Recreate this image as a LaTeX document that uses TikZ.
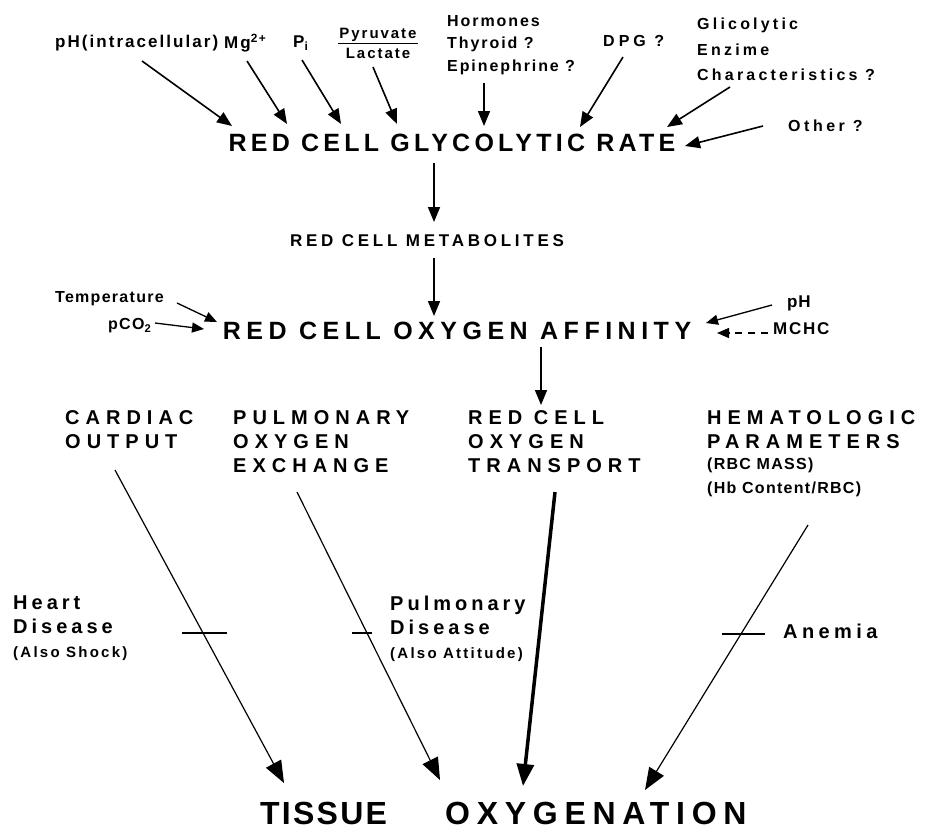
\documentclass[tikz,border=0pt]{standalone}
\usepackage{fontspec}
\setmainfont{Liberation Sans}
\usetikzlibrary{arrows.meta}
\newcommand\sz[3]{\fontsize{#1}{#2}\selectfont\bfseries\addfontfeatures{LetterSpace=#3}}
\tikzset{
	arr/.style = {-{Triangle[length=15pt,width=12pt]}, line width=1.6pt},
	thin/.style = {line width=1.3pt, -{Triangle[length=12pt,width=10pt]}},
	long/.style = {line width=1.2pt, -{Triangle[length=22pt,width=17pt]}},
	title/.style = {inner sep=0pt, font=\sz{25}{30}{17}},
	head/.style = {inner sep=0pt, align=left, font=\sz{20}{24}{30}},
	lbl/.style = {inner sep=0pt, align=left, font=\sz{17}{20}{12}},
	narrow/.style = {inner sep=0pt, align=left, font=\sz{16}{24}{8}},
	sick/.style = {inner sep=0pt, align=left, font=\sz{20}{24}{20}}
}
\begin{document}
\begin{tikzpicture}[x=1pt, y=-1pt]
	\useasboundingbox (0,0) rectangle (925,831);
	% factors above the glycolytic rate
	\node [lbl, anchor=west] (ph) at (55,43) {pH(intracellular)};
	\node [lbl, anchor=west] (mg) at (224,43) {Mg\textsuperscript{2+}};
	\node [lbl, anchor=west] (pi) at (293,43) {P\textsubscript{i}};
	\node [lbl, align=center, inner sep=1pt, font=\sz{15}{20}{13}] (pyr) at (378,43) {Pyruvate\\Lactate};
	\draw [line width=1pt] (pyr.west) -- (pyr.east);
	\node [lbl, anchor=north west, font=\sz{16}{22.5}{12}] (horm) at (447,15) {Hormones\\Thyroid ?\\Epinephrine ?};
	\node [lbl, anchor=west, font=\sz{16}{20}{25}] (dpg) at (603,41) {DPG ?};
	\node [lbl, anchor=north west, font=\sz{16}{25.5}{20}] (glic) at (697,18) {Glicolytic\\Enzime\\Characteristics ?};
	\node [lbl, anchor=west, font=\sz{16}{20}{22}] (other) at (788,126) {Other ?};
	\node [title] (glyc) at (452,143) {RED CELL GLYCOLYTIC RATE};
	% main chain
	\node [lbl, font=\sz{17}{20}{22}] (metab) at (427,241) {RED CELL METABOLITES};
	\node [title, font=\sz{25}{30}{22}] (aff) at (457,331) {RED CELL OXYGEN AFFINITY};
	\node [narrow, anchor=west] (temp) at (55,299) {Temperature};
	\node [narrow, anchor=west] (pco) at (108,326) {pCO\textsubscript{2}};
	\node [narrow, anchor=west, font=\sz{17}{20}{4}] (phr) at (787,303) {pH};
	\node [narrow, anchor=west, font=\sz{17}{20}{10}] (mchc) at (773,329) {MCHC};
	% the four columns
	\node [head, anchor=north west] (card) at (65,410) {CARDIAC\\OUTPUT};
	\node [head, anchor=north west] (pulm) at (233,410) {PULMONARY\\OXYGEN\\EXCHANGE};
	\node [head, anchor=north west] (rcot) at (468,410) {RED CELL\\OXYGEN\\TRANSPORT};
	\node [head, anchor=north west] (hema) at (707,410) {HEMATOLOGIC\\PARAMETERS};
	\node [narrow, anchor=north west, font=\sz{16}{24}{8}] (hemb) at (707,458) {(RBC MASS)\\(Hb Content/RBC)};
	\node [sick, anchor=north west] (heart) at (13,596) {Heart\\Disease\\{\sz{15}{15}{15}(Also Shock)}};
	\node [sick, anchor=north west] (pdis) at (390,596) {Pulmonary\\Disease\\{\sz{15}{15}{15}(Also Attitude)}};
	\node [sick, anchor=west, font=\sz{20}{20}{22}] (anem) at (783,631) {Anemia};
	\node [title, anchor=west, font=\sz{32}{38}{7}] (tissue) at (260,813) {TISSUE};
	\node [title, anchor=west, font=\sz{32}{38}{21}] (oxy) at (445,813) {OXYGENATION};
	% arrow ends
	\foreach \n/\p in {s1/{142,61}, e1/{232,126}, s2/{247,61}, e2/{287,124}, s3/{302,60}, e3/{341,124},
		s4/{373,67}, e4/{397,124}, s5/{484,83}, e5/{484,126}, s6/{623,57}, e6/{580,127},
		s7/{730,87}, e7/{667,127}, s8/{763,126}, e8/{685,146},
		m1/{434,163}, m2/{434,222}, m3/{434,258}, m4/{434,316}, m5/{541,347}, m6/{541,405},
		t1/{177,303}, t2/{217,322}, c1/{155,323}, c2/{204,329}, h1/{772,305}, h2/{706,323}, d1/{768,333}, d2/{717,333},
		k1/{115,470}, k2/{284,783}, k3/{297,492}, k4/{440,780}, k5/{555,492}, k6/{523,786}, k7/{808,525}, k8/{645,790}}
		\coordinate (\n) at (\p);
	\foreach \i in {1,...,8}
		\draw [arr] (s\i) -- (e\i);
	\draw [arr] (m1) -- (m2);
	\draw [arr] (m3) -- (m4);
	\draw [arr] (m5) -- (m6);
	\draw [thin] (t1) -- (t2);
	\draw [thin] (c1) -- (c2);
	\draw [thin] (h1) -- (h2);
	\draw [thin, dash pattern=on 7pt off 6pt] (d1) -- (d2);
	% into tissue oxygenation
	\draw [long] (k1) -- (k2);
	\draw [long] (k3) -- (k4);
	\draw [long, line width=3.5pt] (k5) -- (k6);
	\draw [long] (k7) -- (k8);
	% disease bars
	\draw [line width=1.6pt] (182,633) -- (227,633) (352,633) -- (372,633) (722,634) -- (765,634);
\end{tikzpicture}
\end{document}
